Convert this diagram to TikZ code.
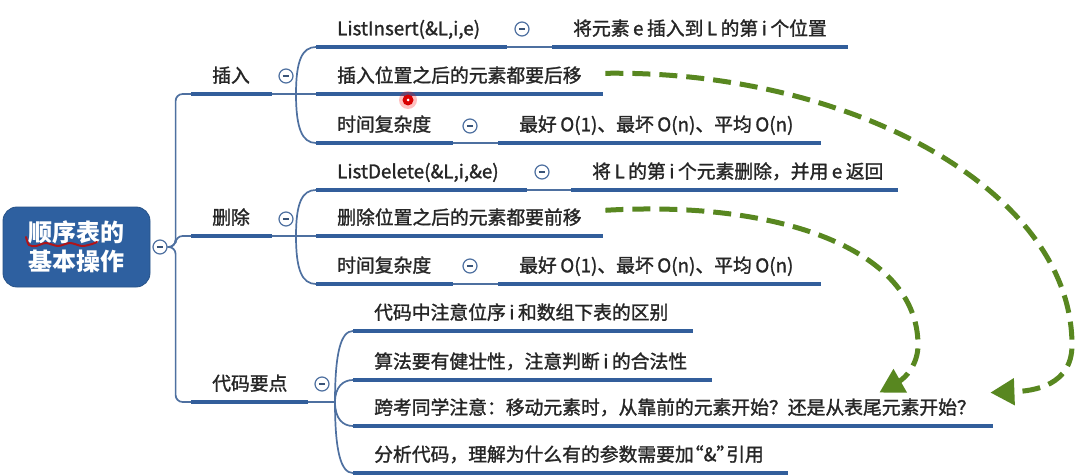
\documentclass[tikz,border=0pt]{standalone}
\usepackage{fontspec}
\usetikzlibrary{arrows.meta}
\newfontfamily\cjk{Noto Sans CJK SC}[FakeBold=1.4]
\newfontfamily\cjkplain{Noto Sans CJK SC}

\definecolor{boxblue}{RGB}{46,96,160}
\definecolor{lineblue}{RGB}{50,94,155}
\definecolor{connblue}{RGB}{78,112,160}
\definecolor{ink}{RGB}{38,38,38}
\definecolor{arrowgreen}{RGB}{88,135,32}
\definecolor{pen}{RGB}{175,20,25}

% small gap between Chinese and Latin text
\newcommand\gp{\hspace{3.5pt}}

\tikzset{
  topic/.style={anchor=south west, inner xsep=0pt, inner ysep=11.5pt,
    text height=14pt, text depth=0pt, text width=#1, text=ink,
    font=\cjk\fontsize{18.8}{22}\selectfont,
    execute at begin node={\hspace*{21pt}}},
  rootbox/.style={rectangle, rounded corners=14pt, fill=boxblue,
    draw=boxblue!85!black, line width=0.8pt,
    minimum width=147pt, minimum height=80pt, text=white, align=center,
    font=\cjkplain\bfseries\fontsize{24}{29}\selectfont},
  collapse/.style={circle, draw=connblue, line width=1.2pt, fill=white,
    minimum size=14pt, inner sep=0pt,
    path picture={\draw[connblue!75!black, line width=1.4pt]
      ([xshift=-3.2pt]path picture bounding box.center) --
      ([xshift=3.2pt]path picture bounding box.center);}},
  uline/.style={draw=lineblue, line width=4pt},
  conn/.style={draw=connblue, line width=1.7pt},
  flow/.style={draw=arrowgreen, line width=5pt, dash pattern=on 18pt off 9pt,
    -{Triangle[length=24pt,width=26pt]}},
}

\begin{document}
\begin{tikzpicture}[x=1pt,y=-1pt]
  \fill[white] (0,0) rectangle (1087,476);
  \useasboundingbox (0,0) rectangle (1087,476);

  % root topic
  \node[rootbox] (root) at (76.5,247) {顺序表的\\基本操作};
  \node[collapse] (croot) at (160,247) {};

  % main branches
  \node[topic=81pt]  (tA) at (191,94)  {插入};
  \node[topic=81pt]  (tB) at (191,236) {删除};
  \node[topic=117pt] (tC) at (191,402) {代码要点};
  \node[collapse] (cA) at (286,76)  {};
  \node[collapse] (cB) at (286,219) {};
  \node[collapse] (cC) at (322,384) {};

  % insert
  \node[topic=191pt] (tA1)  at (316,47)  {ListInsert(\&L,i,e)};
  \node[topic=296pt] (tA1a) at (552,47)  {将元素\gp e\gp 插入到\gp L\gp 的第\gp i\gp 个位置};
  \node[topic=287pt] (tA2)  at (316,94)  {插入位置之后的元素都要后移};
  \node[topic=137pt] (tA3)  at (316,143) {时间复杂度};
  \node[topic=323pt] (tA3a) at (498,143) {最好\gp O(1)、最坏\gp O(n)、平均\gp O(n)};
  \node[collapse] (cA1) at (522,29)  {};
  \node[collapse] (cA3) at (470,126) {};

  % delete
  \node[topic=211pt] (tB1)  at (316,190) {ListDelete(\&L,i,\&e)};
  \node[topic=327pt] (tB1a) at (571,190) {将\gp L\gp 的第\gp i\gp 个元素删除，并用\gp e\gp 返回};
  \node[topic=287pt] (tB2)  at (316,236) {删除位置之后的元素都要前移};
  \node[topic=137pt] (tB3)  at (316,284) {时间复杂度};
  \node[topic=323pt] (tB3a) at (498,284) {最好\gp O(1)、最坏\gp O(n)、平均\gp O(n)};
  \node[collapse] (cB1) at (542,172) {};
  \node[collapse] (cB3) at (470,266) {};

  % code notes
  \node[topic=340pt] (tC1) at (353,331) {代码中注意位序\gp i\gp 和数组下表的区别};
  \node[topic=359pt] (tC2) at (353,380) {算法要有健壮性，注意判断\gp i\gp 的合法性};
  \node[topic=640pt] (tC3) at (353,426) {跨考同学注意：移动元素时，从靠前的元素开始？还是从表尾元素开始？};
  \node[topic=435pt] (tC4) at (353,473) {分析代码，理解为什么有的参数需要加\kern-9pt“\&”\kern-9pt 引用};

  % topic underlines
  \foreach \n in {tA,tB,tC,tA1,tA1a,tA2,tA3,tA3a,tB1,tB1a,tB2,tB3,tB3a,tC1,tC2,tC3,tC4}
    \draw[uline] (\n.south west) -- (\n.south east);

  % trunk from the root
  \foreach \n in {tA,tB,tC}
    \draw[conn, rounded corners=7pt] (croot.east) -- ++(8,0) |- (\n.south west);

  % split points of the main branches
  \coordinate (sA) at (296,94);
  \coordinate (sB) at (296,236);
  \coordinate (sC) at (335,402);
  \draw[conn] (tA.south east) -- (sA);
  \draw[conn] (tB.south east) -- (sB);
  \draw[conn] (tC.south east) -- (sC);

  \draw[conn] (sA) .. controls +(0,-33) and +(-14,0) .. (tA1.south west);
  \draw[conn] (sA) -- (tA2.south west);
  \draw[conn] (sA) .. controls +(0,34) and +(-14,0) .. (tA3.south west);

  \draw[conn] (sB) .. controls +(0,-33) and +(-14,0) .. (tB1.south west);
  \draw[conn] (sB) -- (tB2.south west);
  \draw[conn] (sB) .. controls +(0,34) and +(-14,0) .. (tB3.south west);

  \draw[conn] (sC) .. controls +(0,-50) and +(-12,0) .. (tC1.south west);
  \draw[conn] (sC) .. controls +(0,-15) and +(-10,0) .. (tC2.south west);
  \draw[conn] (sC) .. controls +(0,17) and +(-10,0) .. (tC3.south west);
  \draw[conn] (sC) .. controls +(0,50) and +(-12,0) .. (tC4.south west);

  % detail links
  \draw[conn] (tA1.south east) -- (tA1a.south west);
  \draw[conn] (tA3.south east) -- (tA3a.south west);
  \draw[conn] (tB1.south east) -- (tB1a.south west);
  \draw[conn] (tB3.south east) -- (tB3a.south west);

  % green dashed arrows
  \draw[flow] ([xshift=2pt,yshift=2pt]tA2.east) .. controls (850,70) and (1072,190) ..
    (1072,345) .. controls (1072,385) and (1035,391) ..
    ([xshift=-3pt,yshift=-4pt]tC3.north east);
  \draw[flow] ([xshift=2pt,yshift=7pt]tB2.east) .. controls (780,200) and (918,250) ..
    (918,345) .. controls (918,365) and (905,378) ..
    ([xshift=-114pt,yshift=-4pt]tC3.north east);

  % red pen marks
  \draw[pen, line width=2pt, line cap=round, line join=round]
    plot[smooth] coordinates {(26,237) (29,245) (36,246) (46,243) (58,246)
      (70,243) (82,246) (92,244) (97,242)};
  \fill[red, opacity=0.25] (408,100) circle (9);
  \fill[red!85!black] (408,100) circle (5.5);
  \fill[white] (408,100) circle (1.5);
\end{tikzpicture}
\end{document}
